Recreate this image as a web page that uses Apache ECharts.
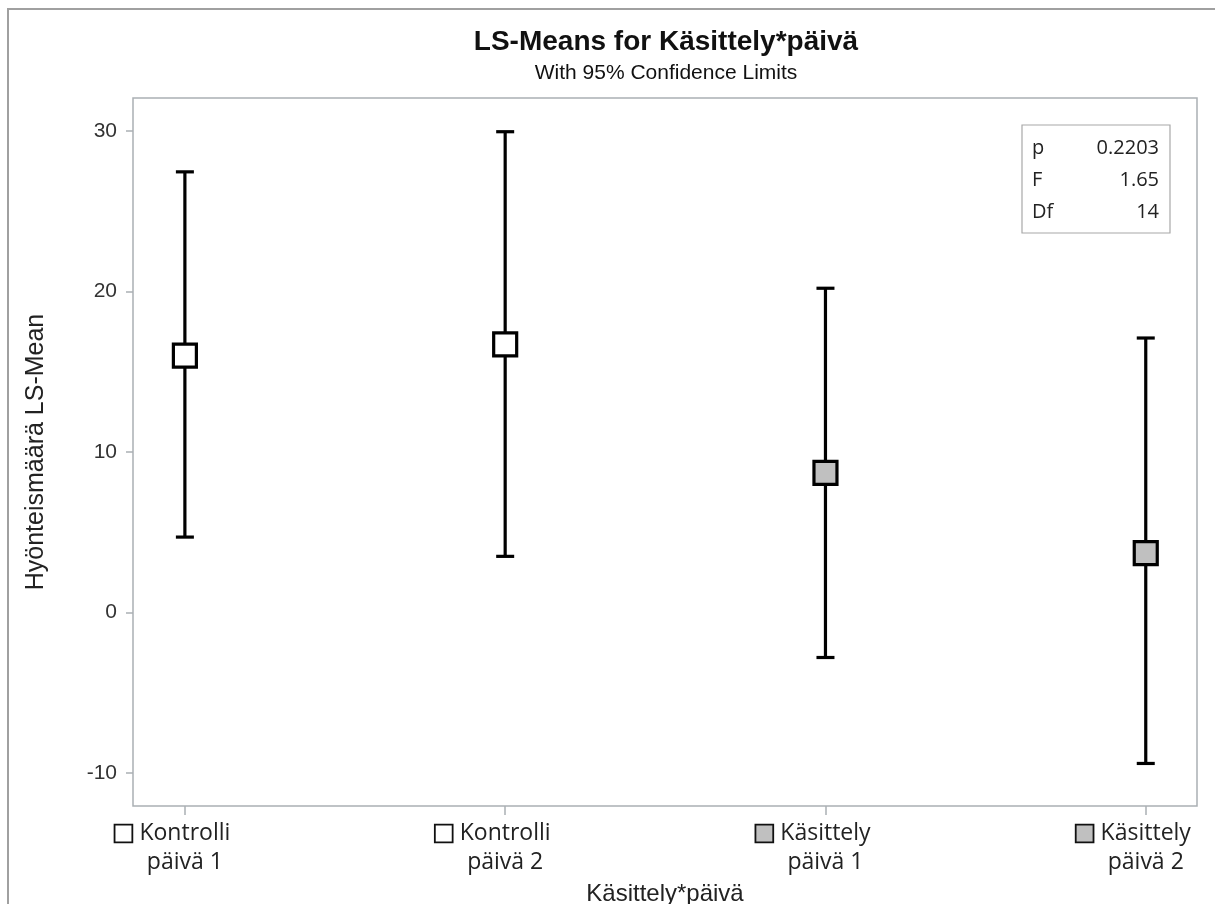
<!DOCTYPE html>
<html>
<head>
<meta charset="utf-8">
<script src="https://cdn.jsdelivr.net/npm/echarts@6/dist/echarts.min.js"></script>
<style>
html,body{margin:0;padding:0;background:#fff;overflow:hidden;}
#chart{width:1215px;height:904px;}
</style>
</head>
<body>
<div id="chart"></div>
<script>
// ---- data ----
const groupNames = ['Kontrolli', 'Kontrolli', 'Käsittely', 'Käsittely'];
const dayNames = ['päivä 1', 'päivä 2', 'päivä 1', 'päivä 2'];
const groupKind = ['ctrl', 'ctrl', 'trt', 'trt'];
const lsMeans = [16.0, 16.7, 8.7, 3.7];
const upperCL = [27.45, 29.95, 20.2, 17.1];
const lowerCL = [4.7, 3.5, -2.8, -9.4];
const yTicks = [-10, 0, 10, 20, 30];
const statLabels = ['p', 'F', 'Df'];
const statValues = ['0.2203', '1.65', '14'];
const titleText = 'LS-Means for Käsittely*päivä';
const subtitleText = 'With 95% Confidence Limits';
const xTitle = 'Käsittely*päivä';
const yTitle = 'Hyönteismäärä LS-Mean';

const fillFor = { ctrl: '#ffffff', trt: '#c0c0c0' };
const xPos = groupNames.map((_, i) => i + 1);

const chart = echarts.init(document.getElementById('chart'));
const H = chart.getHeight();

const errData = xPos.map((x, i) => [x, lowerCL[i], upperCL[i]]);
const meanData = xPos.map((x, i) => ({
  value: [x, lsMeans[i]],
  itemStyle: { color: fillFor[groupKind[i]] }
}));

const statGraphics = [];
const boxL = 1022, boxT = 125, boxW = 148, boxH = 108;
statGraphics.push({
  type: 'rect', shape: { x: boxL, y: boxT, width: boxW, height: boxH },
  style: { fill: '#fff', stroke: '#a8a8a8', lineWidth: 1.2 }, z: 10
});
statLabels.forEach((lab, i) => {
  const cy = boxT + 23 + i * 32;
  statGraphics.push({
    type: 'text', x: boxL + 10, y: cy, z: 11,
    style: { text: lab, font: '20px "Open Sans"', fill: '#222', textAlign: 'left', textVerticalAlign: 'middle' }
  });
  statGraphics.push({
    type: 'text', x: boxL + boxW - 11, y: cy, z: 11,
    style: { text: statValues[i], font: '20px "Open Sans"', fill: '#222', textAlign: 'right', textVerticalAlign: 'middle' }
  });
});

const option = {
  backgroundColor: '#fff',
  animation: false,
  grid: {
    left: 133, right: 18, top: 98, bottom: H - 806,
    containLabel: false, outerBoundsMode: 'none',
    show: true, borderColor: '#aab0b4', borderWidth: 1.5, backgroundColor: 'transparent'
  },
  xAxis: {
    type: 'value', min: 0.838, max: 4.16,
    name: xTitle, nameLocation: 'middle', nameGap: 76,
    nameTextStyle: { fontFamily: 'Liberation Sans', fontSize: 24, color: '#222' },
    axisLine: { show: false, onZero: false },
    splitLine: { show: false },
    axisTick: { show: true, customValues: xPos, length: 9, lineStyle: { color: '#aab0b4', width: 1.5 } },
    axisLabel: {
      customValues: xPos,
      margin: 13,
      formatter: function (v) {
        const i = Math.round(v) - 1;
        const box = groupKind[i] === 'ctrl' ? 'bc' : 'bt';
        return '{' + box + '|}{g|}{t|' + groupNames[i] + '}{s|}\n{t|' + dayNames[i] + '}';
      },
      rich: {
        t: { fontFamily: 'Open Sans', fontSize: 23, color: '#222', lineHeight: 29 },
        g: { width: 8 },
        s: { width: 24 },
        bc: { width: 16, height: 16, backgroundColor: '#fff', borderColor: '#111', borderWidth: 1.8 },
        bt: { width: 16, height: 16, backgroundColor: '#c0c0c0', borderColor: '#111', borderWidth: 1.8 }
      }
    }
  },
  yAxis: {
    type: 'value', min: -12.05, max: 32.05,
    name: yTitle, nameLocation: 'middle', nameGap: 84, nameRotate: 90,
    nameTextStyle: { fontFamily: 'Liberation Sans', fontSize: 25, color: '#222' },
    axisLine: { show: false, onZero: false },
    splitLine: { show: false },
    axisTick: { show: true, customValues: yTicks, length: 7, lineStyle: { color: '#aab0b4', width: 1.5 } },
    axisLabel: {
      customValues: yTicks, margin: 16,
      fontFamily: 'Liberation Sans', fontSize: 21, color: '#333'
    }
  },
  graphic: [
    {
      type: 'rect', shape: { x: 8, y: 9, width: 1215, height: 1000 },
      style: { fill: 'none', stroke: '#a0a0a0', lineWidth: 2 }, z: -10, silent: true
    },
    {
      type: 'text', x: 666, y: 42,
      style: { text: titleText, font: 'bold 28px "Liberation Sans"', fill: '#111', textAlign: 'center', textVerticalAlign: 'middle' }
    },
    {
      type: 'text', x: 666, y: 73,
      style: { text: subtitleText, font: '21px "Liberation Sans"', fill: '#111', textAlign: 'center', textVerticalAlign: 'middle' }
    }
  ].concat(statGraphics),
  series: [
    {
      type: 'custom',
      data: errData,
      z: 2,
      renderItem: function (params, api) {
        const x = api.value(0);
        const lo = api.coord([x, api.value(1)]);
        const hi = api.coord([x, api.value(2)]);
        const cw = 9;
        const st = { stroke: '#000', lineWidth: 3.2, fill: 'none' };
        return {
          type: 'group',
          children: [
            { type: 'line', shape: { x1: lo[0], y1: lo[1], x2: hi[0], y2: hi[1] }, style: st },
            { type: 'line', shape: { x1: lo[0] - cw, y1: lo[1], x2: lo[0] + cw, y2: lo[1] }, style: st },
            { type: 'line', shape: { x1: hi[0] - cw, y1: hi[1], x2: hi[0] + cw, y2: hi[1] }, style: st }
          ]
        };
      }
    },
    {
      type: 'scatter',
      data: meanData,
      z: 5,
      symbol: 'rect',
      symbolSize: 23,
      itemStyle: { borderColor: '#000', borderWidth: 3.2, opacity: 1 }
    }
  ]
};
chart.setOption(option);
</script>
</body>
</html>
